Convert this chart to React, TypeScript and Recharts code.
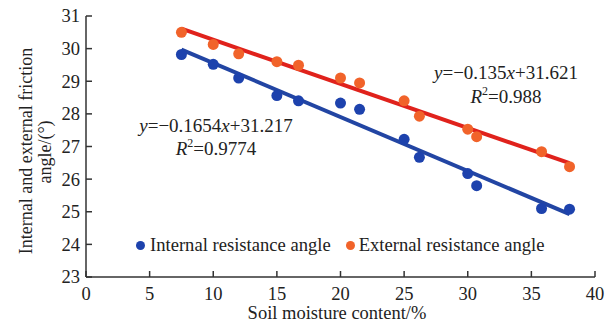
import React from 'react';
import { ScatterChart, Scatter, XAxis, YAxis, Legend, Customized } from 'recharts';

const moisture = [7.5, 10, 12, 15, 16.7, 20, 21.5, 25, 26.2, 30, 30.7, 35.8, 38];
const internalAngle = [29.82, 29.52, 29.1, 28.56, 28.4, 28.33, 28.14, 27.22, 26.67, 26.17, 25.8, 25.1, 25.08];
const externalAngle = [30.5, 30.13, 29.84, 29.6, 29.49, 29.1, 28.95, 28.4, 27.93, 27.53, 27.3, 26.84, 26.38];
const fitX = [7.5, 38];
const internalFit = [29.97, 24.93];
const externalFit = [30.61, 26.49];
const xTicks = [0, 5, 10, 15, 20, 25, 30, 35, 40];
const yTicks = [23, 24, 25, 26, 27, 28, 29, 30, 31];
const seriesNames = ['Internal resistance angle', 'External resistance angle'];

const internalData = moisture.map((x, i) => ({ x, y: internalAngle[i] }));
const externalData = moisture.map((x, i) => ({ x, y: externalAngle[i] }));
const internalFitData = fitX.map((x, i) => ({ x, y: internalFit[i] }));
const externalFitData = fitX.map((x, i) => ({ x, y: externalFit[i] }));

const FONT = '"Liberation Serif", "Times New Roman", serif';
const BLUE = '#1d42ad';
const BLUE_LINE = '#2245a3';
const ORANGE = '#f1632a';
const RED = '#e0221c';
const AXIS = '#333';

const XTick = (props: any) => {
  const { x, y, payload } = props;
  return (
    <g>
      <line x1={x} x2={x} y1={y} y2={y - 6} stroke={AXIS} strokeWidth={1.5} />
      <text x={x} y={y + 23} textAnchor="middle" fontFamily={FONT} fontSize={18.5} fill="#222">
        {payload.value}
      </text>
    </g>
  );
};

const YTick = (props: any) => {
  const { x, y, payload } = props;
  return (
    <g>
      <line x1={x} x2={x + 6} y1={y} y2={y} stroke={AXIS} strokeWidth={1.5} />
      <text x={x - 6} y={y} dy="0.35em" textAnchor="end" fontFamily={FONT} fontSize={18.5} fill="#222">
        {payload.value}
      </text>
    </g>
  );
};

const dotShape = (color: string) => (p: any) => <circle cx={p.cx} cy={p.cy} r={5.5} fill={color} />;
const noShape = () => <g />;

const LegendContent = () => (
  <div style={{ display: 'flex', alignItems: 'center', fontFamily: FONT, fontSize: 18.6, lineHeight: '22px', color: '#222', whiteSpace: 'nowrap' }}>
    <span style={{ display: 'inline-block', width: 9, height: 9, borderRadius: '50%', background: BLUE, marginRight: 5 }} />
    <span>{seriesNames[0]}</span>
    <span style={{ display: 'inline-block', width: 9, height: 9, borderRadius: '50%', background: ORANGE, marginLeft: 15, marginRight: 4 }} />
    <span>{seriesNames[1]}</span>
  </div>
);

const Annotations = () => (
  <g fontFamily={FONT} fontSize={19} fill="#222">
    <text x={216} y={132} textAnchor="middle">
      <tspan fontStyle="italic">y</tspan>=−0.1654<tspan fontStyle="italic">x</tspan>+31.217
    </text>
    <text x={216} y={155} textAnchor="middle">
      <tspan fontStyle="italic">R</tspan>
      <tspan fontSize={12} dy={-8}>2</tspan>
      <tspan dy={8}>=0.9774</tspan>
    </text>
    <text x={506} y={79} textAnchor="middle">
      <tspan fontStyle="italic">y</tspan>=−0.135<tspan fontStyle="italic">x</tspan>+31.621
    </text>
    <text x={506} y={103} textAnchor="middle">
      <tspan fontStyle="italic">R</tspan>
      <tspan fontSize={12} dy={-8}>2</tspan>
      <tspan dy={8}>=0.988</tspan>
    </text>
    <g fontSize={18}>
      <text transform="translate(32,151) rotate(-90)" textAnchor="middle">Internal and external friction</text>
      <text transform="translate(51,152) rotate(-90)" textAnchor="middle">angle/(°)</text>
    </g>
    <text x={337} y={319} textAnchor="middle" fontSize={18.5}>Soil moisture content/%</text>
  </g>
);

export default function App() {
  return (
    <div style={{ position: 'absolute', left: 0, top: 0, background: '#fff' }}>
      <ScatterChart width={615} height={324} margin={{ top: 16, right: 20, bottom: 0, left: 0 }}>
        <XAxis
          type="number"
          dataKey="x"
          domain={[0, 40]}
          ticks={xTicks}
          interval={0}
          height={47}
          tickSize={0}
          tickMargin={0}
          tickLine={false}
          tick={<XTick />}
          axisLine={{ stroke: AXIS, strokeWidth: 1.5 }}
        />
        <YAxis
          type="number"
          dataKey="y"
          domain={[23, 31]}
          ticks={yTicks}
          interval={0}
          width={86}
          tickSize={0}
          tickMargin={0}
          tickLine={false}
          tick={<YTick />}
          axisLine={{ stroke: AXIS, strokeWidth: 1.5 }}
        />
        <Scatter data={externalFitData} line={{ stroke: RED, strokeWidth: 4 }} shape={noShape} legendType="none" isAnimationActive={false} />
        <Scatter data={internalFitData} line={{ stroke: BLUE_LINE, strokeWidth: 4 }} shape={noShape} legendType="none" isAnimationActive={false} />
        <Scatter name={seriesNames[0]} data={internalData} fill={BLUE} shape={dotShape(BLUE)} isAnimationActive={false} />
        <Scatter name={seriesNames[1]} data={externalData} fill={ORANGE} shape={dotShape(ORANGE)} isAnimationActive={false} />
        <Legend
          layout="horizontal"
          verticalAlign="middle"
          align="center"
          content={<LegendContent />}
          wrapperStyle={{ position: 'absolute', left: 136, top: 234, width: 'auto', height: 'auto' }}
        />
        <Customized component={<Annotations />} />
      </ScatterChart>
    </div>
  );
}
